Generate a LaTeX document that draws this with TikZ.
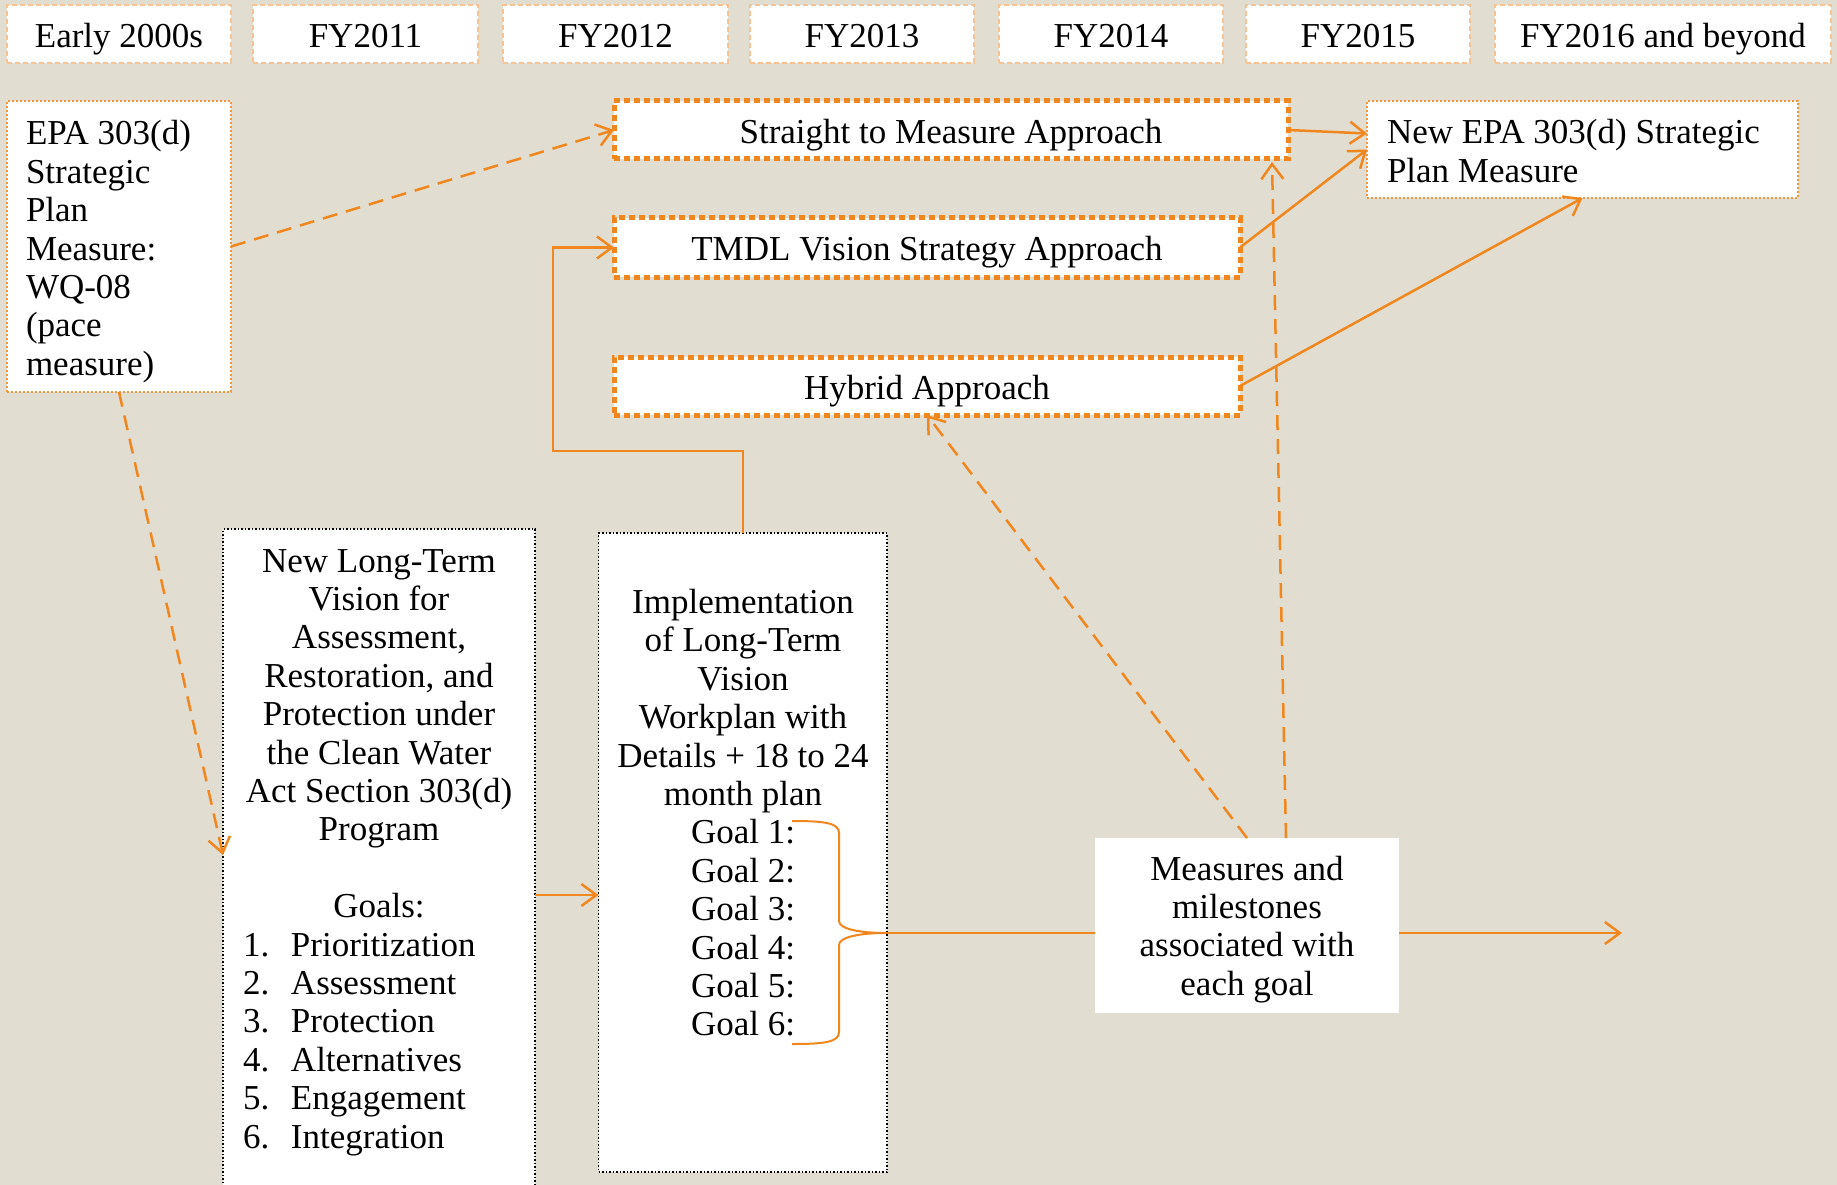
\documentclass[tikz,border=0pt]{standalone}
\usepackage{fontspec}
\setmainfont{Liberation Serif}
\usetikzlibrary{arrows.meta,calc}
\definecolor{bgc}{RGB}{226,221,209}
\definecolor{org}{RGB}{240,135,30}
\definecolor{hdrl}{RGB}{244,196,150}
\definecolor{epal}{RGB}{240,150,60}
\newcommand{\txtlines}[2]{\begin{tabular}[t]{@{}#1@{}}#2\end{tabular}}
\begin{document}
\begin{tikzpicture}[x=1pt,y=-1pt,
 every node/.style={font=\fontsize{35}{38.4}\selectfont, inner sep=0pt, outer sep=0pt},
 hdr/.style={draw=hdrl, fill=white, line width=1.5pt, dash pattern=on 5pt off 3pt, minimum height=58pt, text height=31pt, text depth=4pt},
 appr/.style={draw=org, fill=white, line width=5pt, dash pattern=on 6pt off 4pt, minimum height=58pt, text height=31pt, text depth=4pt},
 epabox/.style={draw=epal, fill=white, line width=2pt, dash pattern=on 2pt off 2pt},
 blkbox/.style={draw=black, fill=white, line width=1.5pt, dash pattern=on 1.5pt off 2pt},
 plainbox/.style={fill=white},
 conn/.style={draw=org, line width=2.5pt},
 arr/.style={conn, -{Straight Barb[length=15pt,width=22pt]}},
 darr/.style={arr, dash pattern=on 15pt off 9pt},
]
\fill[bgc] (0,0) rectangle (1837,1185);
\useasboundingbox (0,0) rectangle (1837,1185);

% timeline headers
\node[hdr, minimum width=224pt] (h1) at (119,34) {Early 2000s};
\node[hdr, minimum width=225pt] (h2) at (365.5,34) {FY2011};
\node[hdr, minimum width=225pt] (h3) at (615.5,34) {FY2012};
\node[hdr, minimum width=224pt] (h4) at (862,34) {FY2013};
\node[hdr, minimum width=224pt] (h5) at (1111,34) {FY2014};
\node[hdr, minimum width=224pt] (h6) at (1358,34) {FY2015};
\node[hdr, minimum width=336pt] (h7) at (1663,34) {FY2016 and beyond};

% boxes
\node[epabox, minimum width=224pt, minimum height=291pt] (epa) at (119,246.5) {};
\node[anchor=base west] (epatext) at (26,145) {\txtlines{l}{EPA 303(d)\\Strategic\\Plan\\Measure:\\WQ-08\\(pace\\measure)}};

\node[appr, minimum width=674pt] (straight) at (951,130) {Straight to Measure Approach};
\node[appr, minimum width=626pt, minimum height=59pt] (tmdl) at (927,247.5) {TMDL Vision Strategy Approach};
\node[appr, minimum width=626pt] (hybrid) at (927,386) {Hybrid Approach};

\node[epabox, minimum width=431pt, minimum height=97pt] (newepa) at (1582.5,149.5) {};
\node[anchor=base west] (newepatext) at (1387,144) {\txtlines{l}{New EPA 303(d) Strategic\\Plan Measure}};

\node[blkbox, minimum width=312pt, minimum height=666pt] (vision) at (379,862) {};
\node[anchor=base] (visiontext) at (379,572) {\txtlines{c}{New Long-Term\\Vision for\\Assessment,\\Restoration, and\\Protection under\\the Clean Water\\Act Section 303(d)\\Program\\ \\Goals:}};
\node[anchor=base west] (goals) at (243,956) {\txtlines{l}{\makebox[48pt][l]{1.}Prioritization\\\makebox[48pt][l]{2.}Assessment\\\makebox[48pt][l]{3.}Protection\\\makebox[48pt][l]{4.}Alternatives\\\makebox[48pt][l]{5.}Engagement\\\makebox[48pt][l]{6.}Integration}};

\node[blkbox, minimum width=288.5pt, minimum height=639pt] (impl) at (742.75,852.5) {};
\node[anchor=base] (impltext) at (743,613.5) {\txtlines{c}{Implementation\\of Long-Term\\Vision\\Workplan with\\Details + 18 to 24\\month plan\\Goal 1:\\Goal 2:\\Goal 3:\\Goal 4:\\Goal 5:\\Goal 6:}};

\node[plainbox, minimum width=304pt, minimum height=175pt] (measures) at (1247,925.5) {};
\node[anchor=base] (measurestext) at (1247,880) {\txtlines{c}{Measures and\\milestones\\associated with\\each goal}};

% brace
\coordinate (bt) at (886,933);
\draw[conn, line width=2pt] (792,821) .. controls (825,821) and (839,823) .. (839,833) -- (839,921)
  .. controls (839,929) and (860,933) .. (bt)
  .. controls (860,933) and (839,937) .. (839,945) -- (839,1032)
  .. controls (839,1042) and (825,1044) .. (792,1044);

% connectors
\coordinate (endpt) at (1622,933);
\draw[conn] (bt) -- (measures.west |- bt);
\draw[arr] (measures.east |- bt) -- (endpt);

\draw[arr] (vision.east |- 0,895) -- (impl.west |- 0,895);
\draw[arr] (impl.north) -- ++(0,-82) -| ([xshift=-61pt]tmdl.west) -- (tmdl.west);

\draw[darr] (epa.east) -- (straight.west);
\draw[darr] (epa.south) -- ($(vision.north west)+(0,326)$);
\draw[darr] (measures.north) -- (hybrid.south);
\draw[darr] ($(measures.north)+(39,0)$) -- ($(straight.south)+(321,3)$);

\draw[arr] (straight.east) -- ($(newepa.west)+(0,-16)$);
\draw[arr] (tmdl.east) -- (newepa.west);
\draw[arr] (hybrid.east) -- (newepa.south);
\end{tikzpicture}
\end{document}
